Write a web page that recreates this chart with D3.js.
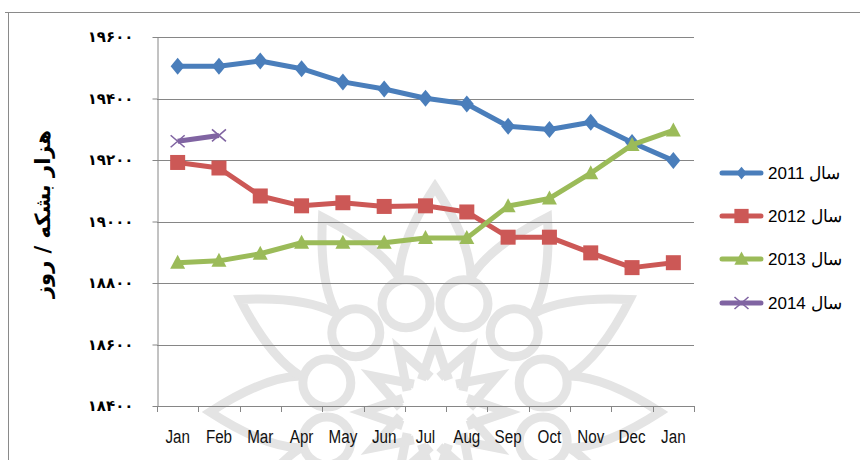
<!doctype html>
<html lang="fa">
    <head>
        <meta charset="utf-8">
        <title>production chart</title>
        <style>
            body { margin: 0; background: #fff; }
        </style>
    </head>
    <body>
        <script src="https://cdnjs.cloudflare.com/ajax/libs/d3/7.8.5/d3.min.js"></script>
        <script>

            // months on the x axis (Jan repeats at the end)
            var months = ["Jan", "Feb", "Mar", "Apr", "May", "Jun", "Jul", "Aug", "Sep", "Oct", "Nov", "Dec", "Jan"];

            // values in thousand barrels / day
            var y2011 = [19505, 19505, 19522, 19497, 19454, 19431, 19401, 19382, 19310, 19299, 19323, 19257, 19198];
            var y2012 = [19192, 19174, 19083, 19051, 19061, 19049, 19051, 19031, 18949, 18949, 18898, 18850, 18866];
            var y2013 = [18866, 18872, 18895, 18931, 18931, 18931, 18946, 18946, 19050, 19075, 19157, 19249, 19296];
            var y2014 = [19261, 19280];

            var yTicks = [18400, 18600, 18800, 19000, 19200, 19400, 19600];
            var seriesNames = ["سال 2011", "سال 2012", "سال 2013", "سال 2014"];
            var yTitle = "هزار بشکه / روز";

            var w = 860;
            var h = 460;
            var plotLeft = 157, plotRight = 694, plotTop = 37, plotBottom = 406;

            var series = [
                {name: seriesNames[0], values: y2011, color: "#4a7ebb", marker: "diamond"},
                {name: seriesNames[1], values: y2012, color: "#cc5856", marker: "square"},
                {name: seriesNames[2], values: y2013, color: "#9bbb59", marker: "triangle"},
                {name: seriesNames[3], values: y2014, color: "#8064a2", marker: "cross"}
            ];

            var svg = d3.select("body")
                        .append("svg")
                        .attr("width", w)
                        .attr("height", h);

            //background watermark (faint rosette)
            var wm = svg.append("g")
                        .attr("transform", "translate(435,412)")
                        .attr("fill", "none")
                        .attr("stroke", "#e4e4e4")
                        .attr("stroke-width", 9);

            var polar = function(r, ang) { return [r * Math.sin(ang), -r * Math.cos(ang)]; };
            for (var k = 0; k < 12; k++) {
                var a = (15 + 30 * k) * Math.PI / 180;
                wm.append("circle")
                  .attr("cx", 112 * Math.sin(a))
                  .attr("cy", -112 * Math.cos(a))
                  .attr("r", 24);

                var b = 30 * k * Math.PI / 180;
                var s1 = polar(140, b - 0.26), tip = polar(225, b), s2 = polar(140, b + 0.26);
                var c1 = polar(175, b - 0.2), c2 = polar(175, b + 0.2);
                wm.append("path")
                  .attr("d", "M" + s1 + "Q" + c1 + " " + tip + "Q" + c2 + " " + s2);

                var i1 = polar(35, b - 0.4), itip = polar(72, b), i2 = polar(35, b + 0.4);
                wm.append("path")
                  .attr("d", "M" + i1 + "L" + itip + "L" + i2);
            }

            //frame lines
            svg.append("line")
               .attr("x1", 5).attr("x2", w)
               .attr("y1", 12.5).attr("y2", 12.5)
               .attr("stroke", "#8a8a8a");
            svg.append("line")
               .attr("x1", 8.5).attr("x2", 8.5)
               .attr("y1", 12).attr("y2", h)
               .attr("stroke", "#8a8a8a");

            var x = d3.scaleBand()
                      .domain(d3.range(months.length))
                      .range([plotLeft, plotRight]);

            var y = d3.scaleLinear()
                      .domain([18400, 19600])
                      .range([plotBottom, plotTop]);

            function cx(i) { return x(i) + x.bandwidth() / 2; }

            //gridlines
            svg.append("g")
               .selectAll("line")
               .data(yTicks.slice(1))
               .enter()
               .append("line")
               .attr("x1", plotLeft)
               .attr("x2", plotRight)
               .attr("y1", function(d) { return Math.round(y(d)) + 0.5; })
               .attr("y2", function(d) { return Math.round(y(d)) + 0.5; })
               .attr("stroke", "#868686")
               .attr("stroke-width", 1.2);

            //y axis
            var faDigits = "۰۱۲۳۴۵۶۷۸۹";
            function toFa(n) {
                return String(n).replace(/[0-9]/g, function(c) { return faDigits[+c]; });
            }

            var yAxis = svg.append("g")
                           .attr("transform", "translate(" + (plotLeft + 0.5) + ",0)")
                           .call(d3.axisLeft(y)
                                   .tickValues(yTicks)
                                   .tickSize(5)
                                   .tickSizeOuter(0)
                                   .tickPadding(19)
                                   .tickFormat(toFa));
            yAxis.selectAll("line, path").attr("stroke", "#868686");
            yAxis.selectAll("text")
                 .attr("font-family", "DejaVu Sans")
                 .attr("font-size", 15)
                 .attr("font-weight", "bold")
                 .attr("letter-spacing", 1.8)
                 .attr("fill", "#000");

            //x axis
            var xg = svg.append("g");
            xg.append("line")
              .attr("x1", plotLeft).attr("x2", plotRight)
              .attr("y1", plotBottom + 0.5).attr("y2", plotBottom + 0.5)
              .attr("stroke", "#868686");
            xg.selectAll(".tick")
              .data(d3.range(months.length + 1))
              .enter()
              .append("line")
              .attr("x1", function(i) { return Math.round(plotLeft + i * x.step()) + 0.5; })
              .attr("x2", function(i) { return Math.round(plotLeft + i * x.step()) + 0.5; })
              .attr("y1", plotBottom)
              .attr("y2", plotBottom + 6)
              .attr("stroke", "#868686");
            xg.selectAll("text")
              .data(months)
              .enter()
              .append("text")
              .attr("transform", function(d, i) { return "translate(" + cx(i) + ",443) scale(0.8,1)"; })
              .attr("text-anchor", "middle")
              .attr("font-family", "Liberation Sans, Arial, sans-serif")
              .attr("font-size", 19)
              .attr("fill", "#111")
              .text(function(d) { return d; });

            //y title
            svg.append("text")
               .attr("transform", "translate(50,214) rotate(-90)")
               .attr("text-anchor", "middle")
               .attr("font-family", "DejaVu Sans")
               .attr("font-weight", "bold")
               .attr("font-size", 21)
               .attr("fill", "#000")
               .text(yTitle);

            //markers
            function drawMarker(g, type, color, sc) {
                sc = sc || 1;
                if (type == "diamond") {
                    g.append("path")
                     .attr("d", "M0," + (-8.5 * sc) + "L" + (7 * sc) + ",0L0," + (8.5 * sc) + "L" + (-7 * sc) + ",0Z")
                     .attr("fill", color);
                } else if (type == "square") {
                    g.append("rect")
                     .attr("x", -7.5 * sc).attr("y", -7.5 * sc)
                     .attr("width", 15 * sc).attr("height", 15 * sc)
                     .attr("fill", color);
                } else if (type == "triangle") {
                    g.append("path")
                     .attr("d", "M0," + (-8 * sc) + "L" + (7.5 * sc) + "," + (6 * sc) + "L" + (-7.5 * sc) + "," + (6 * sc) + "Z")
                     .attr("fill", color);
                } else {
                    g.append("path")
                     .attr("d", "M-7,-6L7,6M-7,6L7,-6")
                     .attr("stroke", color)
                     .attr("stroke-width", 1.6);
                }
            }

            var line = d3.line()
                         .x(function(d, i) { return cx(i); })
                         .y(function(d) { return y(d); });

            series.forEach(function(s) {
                var g = svg.append("g");
                g.append("path")
                 .datum(s.values)
                 .attr("d", line)
                 .attr("fill", "none")
                 .attr("stroke", s.color)
                 .attr("stroke-width", 5)
                 .attr("stroke-linejoin", "round");

                g.selectAll(".m")
                 .data(s.values)
                 .enter()
                 .append("g")
                 .attr("transform", function(d, i) { return "translate(" + cx(i) + "," + y(d) + ")"; })
                 .each(function() { drawMarker(d3.select(this), s.marker, s.color); });
            });

            //legend
            var leg = svg.append("g");
            var legY = [173, 216, 259, 303];
            series.forEach(function(s, i) {
                var lg = leg.append("g").attr("transform", "translate(0," + legY[i] + ")");
                lg.append("line")
                  .attr("x1", 722).attr("x2", 761)
                  .attr("stroke", s.color)
                  .attr("stroke-width", 5)
                  .attr("stroke-linecap", "round");
                var mg = lg.append("g").attr("transform", "translate(741.5,0)");
                drawMarker(mg, s.marker, s.color, s.marker == "diamond" ? 0.75 : 0.95);
                lg.append("text")
                  .attr("x", 768)
                  .attr("y", 6)
                  .attr("direction", "rtl")
                  .attr("text-anchor", "end")
                  .attr("font-family", "Liberation Sans, Arial, sans-serif")
                  .attr("font-size", 17)
                  .attr("fill", "#000")
                  .text(s.name);
            });

        </script>
    </body>
</html>
